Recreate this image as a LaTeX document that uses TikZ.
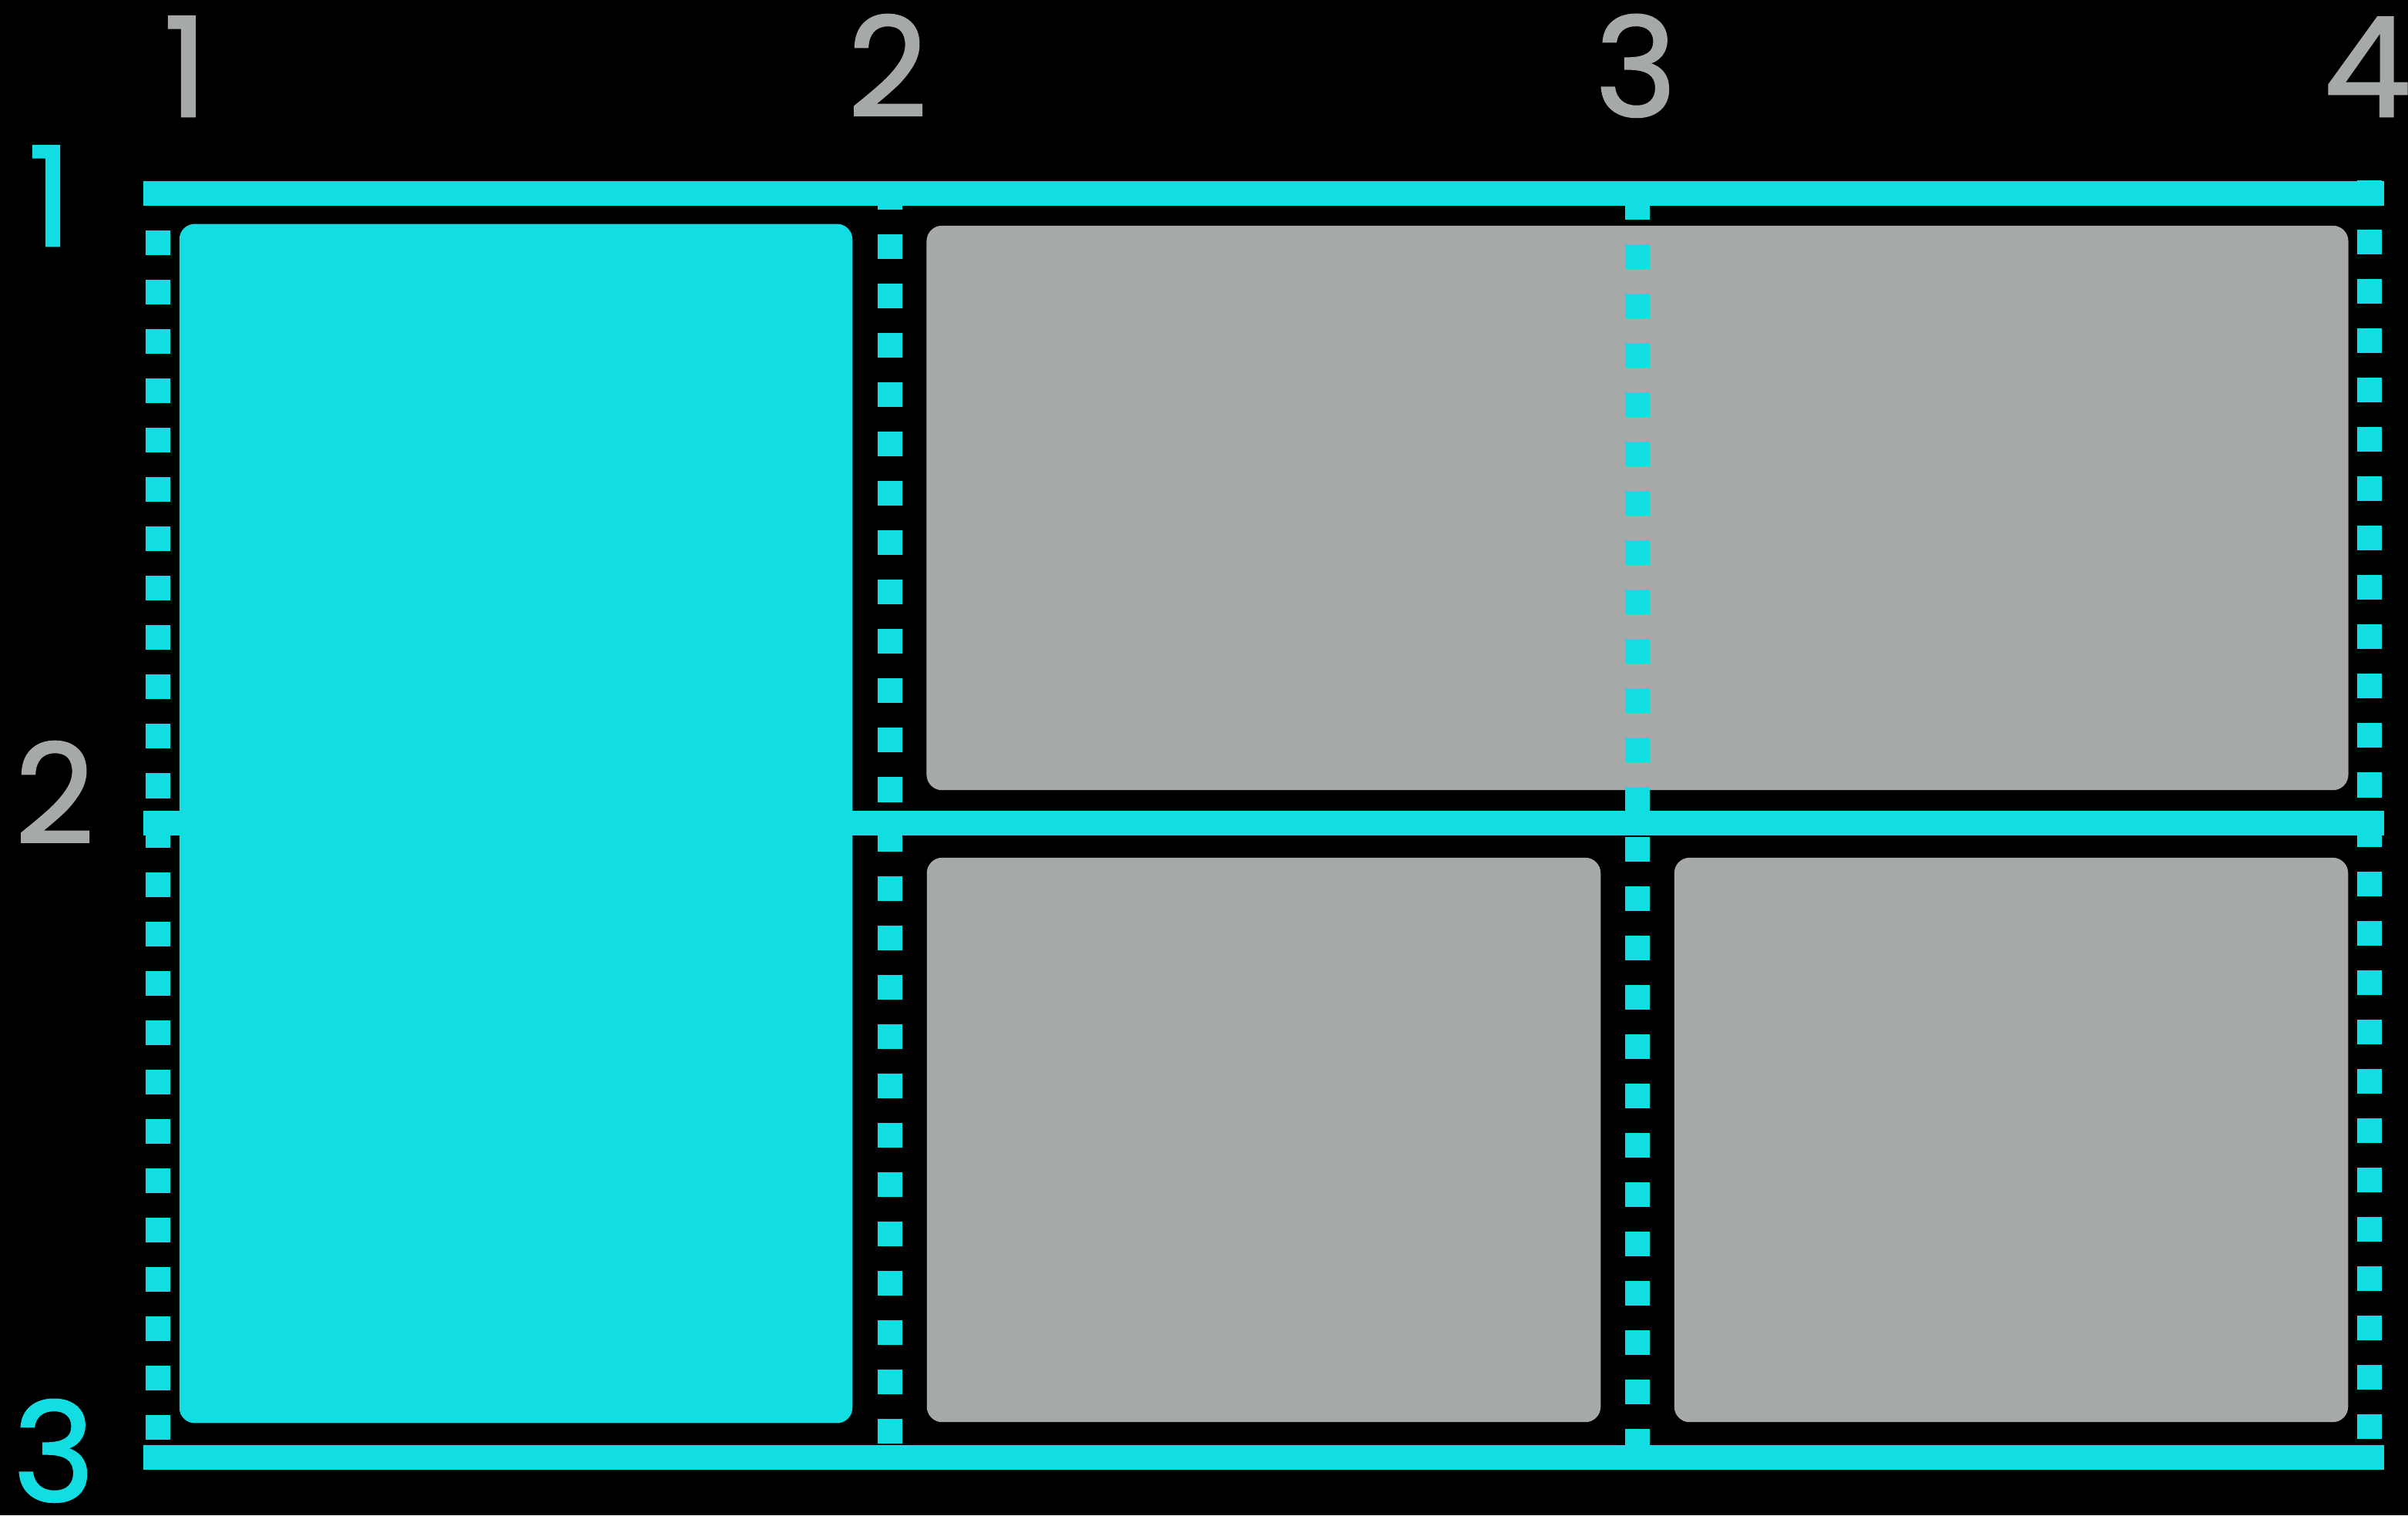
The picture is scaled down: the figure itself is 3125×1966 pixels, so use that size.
\documentclass[tikz,border=0pt]{standalone}
\usepackage{fontspec}
\setmainfont{Poppins}
\newfontfamily\lblfont{Poppins}[FakeBold=1.5]
\definecolor{gcyan}{RGB}{18,221,226}
\definecolor{ggray}{RGB}{165,169,167}
\begin{document}
\begin{tikzpicture}[x=0.01cm,y=-0.01cm,
  area/.style={inner sep=0pt,outer sep=0pt,rounded corners=0.2cm},
  gridline/.style={draw=gcyan,line width=0.32cm},
  track/.style={draw=gcyan,line width=0.32cm,dash pattern=on 0.32cm off 0.32cm},
  lbl/.style={inner sep=0pt,anchor=base,font=\lblfont\fontsize{51pt}{56pt}\selectfont}]
\fill[black] (0,0) rectangle (3125,1966);
\useasboundingbox (0,0) rectangle (3125,1966);
% areas
\node[area,fill=gcyan,minimum width=8.73cm,minimum height=15.55cm] (side) at (669.5,1068.5) {};
\node[area,fill=ggray,minimum width=18.44cm,minimum height=7.32cm] (top) at (2125,659) {};
\node[area,fill=ggray,minimum width=8.74cm,minimum height=7.32cm] (bl) at (1640,1479) {};
\node[area,fill=ggray,minimum width=8.74cm,minimum height=7.32cm] (br) at (2610,1479) {};
% column tracks (dashed)
\draw[track] (205,235) -- (205,1899);
\draw[track] (1155,240) -- (1155,1890);
\draw[track] (2125,253) -- (2125,1891);
\draw[track] (3075,234) -- (3075,1880);
% row lines
\draw[gridline] (186,251) -- (3094,251);
\draw[gridline] (186,1067.5) -- (3094,1067.5);
\draw[gridline] (186,1891) -- (3094,1891);
% column labels
\node[lbl,text=ggray] (c1) at (241,151) {1};
\node[lbl,text=ggray] (c2) at (1152,151) {2};
\node[lbl,text=ggray] (c3) at (2123,151) {3};
\node[lbl,text=ggray] (c4) at (3072,151) {4};
% row labels
\node[lbl,text=gcyan] (r1) at (65,319) {1};
\node[lbl,text=ggray] (r2) at (71,1094) {2};
\node[lbl,text=gcyan] (r3) at (70,1948) {3};
\end{tikzpicture}
\end{document}
